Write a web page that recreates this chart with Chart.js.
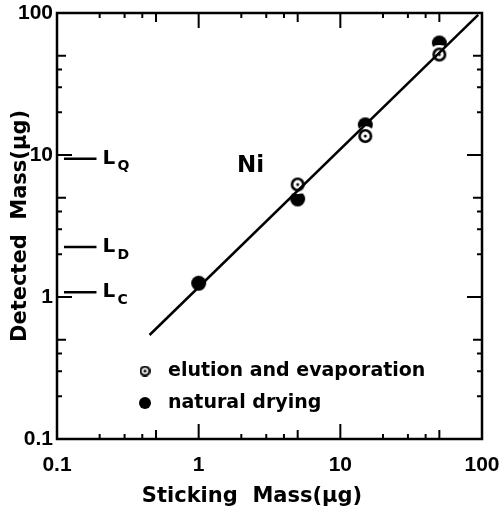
<!DOCTYPE html>
<html>
<head>
<meta charset="utf-8">
<script src="https://cdn.jsdelivr.net/npm/chart.js@4/dist/chart.umd.min.js"></script>
<style>
  html, body { margin: 0; padding: 0; background: #fff; }
  #wrap { width: 504px; height: 516px; }
</style>
</head>
<body>
<div id="wrap"><canvas id="chart" width="504" height="516"></canvas></div>
<script>
// dados
const decadeTicks = [0.1, 1, 10, 100];
const sticking = [1, 5, 15, 50];
const natural = [1.25, 4.9, 16.3, 61.5];
const elutionX = [5, 15, 50];
const elution = [6.2, 13.6, 51];
const fitX = [0.45, 94];
const fitY = [0.54, 97];
const limitNames = ['Q', 'D', 'C'];
const limitValues = [9.4, 2.25, 1.08];
const limitX = [0.112, 0.19];

const NUMFONT = "'Liberation Sans', Arial, sans-serif";
const FONT = "'DejaVu Sans', sans-serif";

// marcadores com halo branco (corta a reta perto dos pontos)
function markerFilled(r, halo) {
  const c = document.createElement('canvas');
  const s = Math.ceil((r + halo) * 2);
  c.width = s; c.height = s;
  const g = c.getContext('2d');
  g.fillStyle = '#fff';
  g.beginPath(); g.arc(s / 2, s / 2, r + halo, 0, Math.PI * 2); g.fill();
  g.fillStyle = '#000';
  g.beginPath(); g.arc(s / 2, s / 2, r, 0, Math.PI * 2); g.fill();
  return c;
}
function markerOpen(r, halo, lw) {
  const c = document.createElement('canvas');
  const s = Math.ceil((r + halo) * 2);
  c.width = s; c.height = s;
  const g = c.getContext('2d');
  g.fillStyle = '#fff';
  g.beginPath(); g.arc(s / 2, s / 2, r + halo, 0, Math.PI * 2); g.fill();
  g.strokeStyle = '#000'; g.lineWidth = lw;
  g.beginPath(); g.arc(s / 2, s / 2, r - lw / 2, 0, Math.PI * 2); g.stroke();
  g.fillStyle = '#000';
  g.beginPath(); g.arc(s / 2, s / 2, 1.5, 0, Math.PI * 2); g.fill();
  return c;
}

const filledImg = markerFilled(7.5, 3);
const openImg = markerOpen(7, 3, 2.6);
const legendFilled = markerFilled(6, 0);
const legendOpen = markerOpen(5.5, 0, 2.2);

// moldura, ticks internos e textos
const framePlugin = {
  id: 'frame',
  afterDraw(chart) {
    const { ctx, chartArea: a, scales } = chart;
    const xs = scales.x, ys = scales.y;
    ctx.save();
    ctx.strokeStyle = '#000';
    ctx.lineWidth = 2.5;
    ctx.strokeRect(a.left, a.top, a.right - a.left, a.bottom - a.top);

    ctx.lineWidth = 2;
    const marks = [];
    decadeTicks.forEach((d, i) => {
      marks.push([d, 15]);
      if (i < decadeTicks.length - 1) {
        [2, 3, 4].forEach(m => marks.push([d * m, 5]));
        marks.push([d * 5, 9]);
      }
    });
    ctx.beginPath();
    marks.forEach(([v, len]) => {
      const px = xs.getPixelForValue(v);
      const py = ys.getPixelForValue(v);
      ctx.moveTo(px, a.bottom); ctx.lineTo(px, a.bottom - len);
      ctx.moveTo(px, a.top); ctx.lineTo(px, a.top + len);
      ctx.moveTo(a.left, py); ctx.lineTo(a.left + len, py);
      ctx.moveTo(a.right, py); ctx.lineTo(a.right - len, py);
    });
    ctx.stroke();

    ctx.fillStyle = '#000';
    ctx.textBaseline = 'middle';
    ctx.textAlign = 'left';
    // L_Q, L_D, L_C
    limitNames.forEach((n, i) => {
      const px = xs.getPixelForValue(limitX[1]) + 6;
      const py = ys.getPixelForValue(limitValues[i]);
      ctx.font = 'bold 20px ' + FONT;
      ctx.fillText('L', px, py);
      ctx.font = 'bold 14px ' + FONT;
      ctx.fillText(n, px + 15, py + 8);
    });

    ctx.font = 'bold 23px ' + FONT;
    ctx.fillText('Ni', a.left + 180, a.top + 153);

    // legenda
    const lx = a.left + 88;
    ctx.drawImage(legendOpen, lx - legendOpen.width / 2, a.top + 358 - legendOpen.height / 2);
    ctx.drawImage(legendFilled, lx - legendFilled.width / 2, a.top + 390 - legendFilled.height / 2);
    ctx.font = 'bold 19px ' + FONT;
    ctx.fillText('elution and evaporation', lx + 23, a.top + 358);
    ctx.fillText('natural drying', lx + 23, a.top + 390);

    // título do eixo x (deslocado para a esquerda como no original)
    ctx.font = 'bold 21px ' + FONT;
    ctx.textAlign = 'center';
    ctx.fillText('Sticking  Mass(µg)', 252, 497);
    ctx.restore();
  }
};

const ctx = document.getElementById('chart').getContext('2d');
new Chart(ctx, {
  type: 'scatter',
  data: {
    datasets: [
      {
        label: 'fit',
        data: fitX.map((x, i) => ({ x, y: fitY[i] })),
        showLine: true, borderColor: '#000', borderWidth: 2.5, pointRadius: 0
      },
      ...limitValues.map(v => ({
        label: 'limit',
        data: limitX.map(x => ({ x, y: v })),
        showLine: true, borderColor: '#000', borderWidth: 2.5, pointRadius: 0
      })),
      {
        label: 'elution and evaporation',
        data: elutionX.map((x, i) => ({ x, y: elution[i] })),
        pointStyle: openImg
      },
      {
        label: 'natural drying',
        data: sticking.map((x, i) => ({ x, y: natural[i] })),
        pointStyle: filledImg
      }
    ]
  },
  options: {
    responsive: false,
    animation: false,
    layout: { padding: { top: 13, right: 22, left: 0, bottom: 0 } },
    plugins: { legend: { display: false }, tooltip: { enabled: false } },
    scales: {
      x: {
        type: 'logarithmic', min: 0.1, max: 100,
        afterBuildTicks: s => { s.ticks = decadeTicks.map(v => ({ value: v })); },
        afterFit: s => { s.height = 77; s.paddingLeft = 0; s.paddingRight = 0; },
        grid: { display: false, drawTicks: false },
        border: { display: false },
        ticks: {
          color: '#000', padding: 14, maxRotation: 0, autoSkip: false,
          font: { family: NUMFONT, size: 21, weight: 'bold' },
          callback: v => String(v)
        },
        title: { display: false }
      },
      y: {
        type: 'logarithmic', min: 0.1, max: 100,
        afterBuildTicks: s => { s.ticks = decadeTicks.map(v => ({ value: v })); },
        afterFit: s => { s.width = 57; s.paddingTop = 0; s.paddingBottom = 0; },
        grid: { display: false, drawTicks: false },
        border: { display: false },
        ticks: {
          color: '#000', padding: 4, autoSkip: false,
          font: { family: NUMFONT, size: 21, weight: 'bold' },
          callback: v => String(v)
        },
        title: {
          display: true, text: 'Detected  Mass(µg)', color: '#000',
          font: { family: FONT, size: 21, weight: 'bold' },
          padding: { top: 8, bottom: 0 }
        }
      }
    }
  },
  plugins: [framePlugin]
});
</script>
</body>
</html>
